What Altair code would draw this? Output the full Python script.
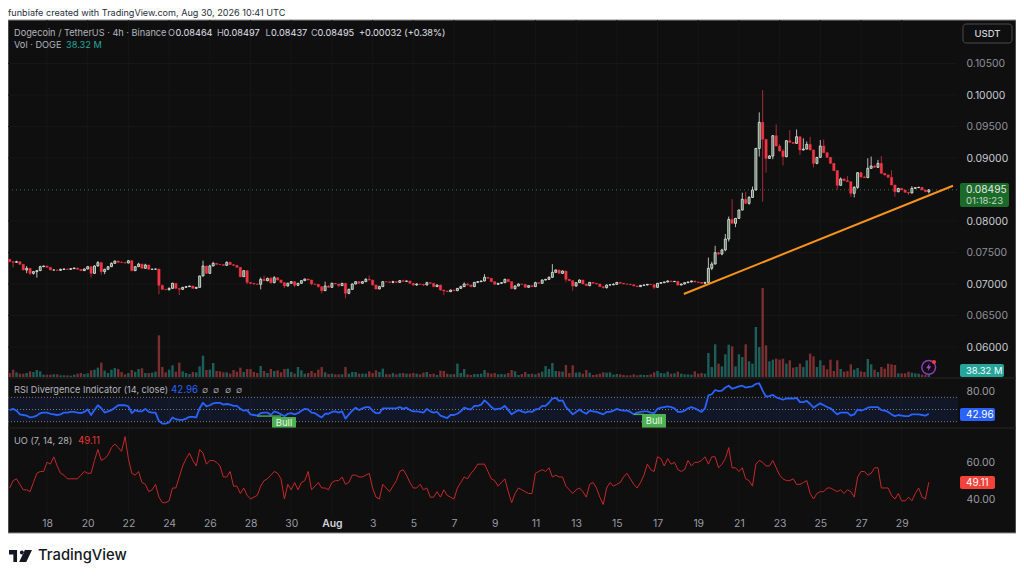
import altair as alt
import pandas as pd
from datetime import datetime, timedelta, timezone

# ---------- values ----------
# closes in units of 0.00001 USDT, one per 4h bar from 16 Jul 04:00 UTC
close_part1 = [7354,7344,7354,7312,7222,7249,7169,7196,7212,7275,
7286,7265,7222,7222,7217,7233,7238,7233,7243,7254,
7233,7212,7238,7275,7169,7286,7339,7196,7233,7275,
7328,7365,7344,7339,7333,7370,7212,7275,7317,7249,
7302,7233,7235,7238,6979,6915,6910,6931,7011,6931,
6915,6947,6958,6968,6931,6947,7127,7286,7169,7286,
7328,7312,7307,7296,7344,7307,7296,7265,7116,7212,
7026,7011,7000,6995,7074,7053,7090,7021,7100,7063,
7021,6968,7011,7037,6979,7011,7053,7079,7063,7000,
6995,6958,6894,6968,6947,7011,7000,6974]
close_part2 = [7011,6852,6915,7000,7037,7011,7037,7074,7063,6984,
6921,6958,7037,7034,7026,7037,7026,7053,7042,7048,
7011,6984,7000,6995,6984,7021,7011,6958,6984,6905,
6889,6878,6905,6894,6931,6958,7000,6984,6958,7026,
7037,7048,7106,7090,7037,6995,7011,7021,7074,7037,
6926,6968,7000,6995,6947,6974,6958,7021,7011,7063,
7074,7106,7185,7222,7169,7206,7074,7053,6968,7021,
7063,7000,6974,7026,7011,7000,6958,6942,6984,6987,
6995,7026,7011,7000,6997,6989,6968,6958,6979,6984,
6995,6989,6947,7011,7021,7032,7048,7037,7042,6984]
close_part3 = [7000,7021,7032,7048,7032,7026,7011,7026,7249,7317,
7497,7476,7540,7714,8026,7963,8042,8174,8344,8280,
8375,8492,9153,9566,9296,8994,9031,9354,9190,9111,
9021,9275,9248,9232,9338,9127,9142,9217,9127,8915,
9010,9190,9084,9010,8915,8799,8566,8666,8640,8624,
8439,8534,8767,8698,8688,8836,8873,8852,8915,8756,
8730,8693,8571,8465,8518,8492,8455,8444,8518,8529,
8534,8492,8464,8495]
first_open = 7390
# wick lengths above the body and below it, same units
upper_wick = [10,10,15,5,5,35,5,10,10,15,5,5,5,5,5,10,5,5,5,5,
5,5,10,10,5,10,25,10,10,5,15,5,5,20,5,5,10,5,20,5,
20,5,5,5,5,10,5,15,10,5,5,5,5,5,5,5,5,85,5,20,
25,5,5,5,15,10,10,5,5,5,5,5,5,5,30,60,10,25,25,5,
5,10,10,10,10,5,5,5,5,5,5,5,5,70,15,10,5,5,5,5,
10,10,5,5,5,20,60,5,5,15,5,5,5,15,5,10,15,5,5,5,
10,5,5,15,10,5,5,5,5,5,5,5,5,15,25,15,5,5,5,5,
50,5,5,5,5,5,10,5,5,15,10,5,5,5,5,15,10,10,5,15,
130,10,5,10,5,5,5,5,10,5,5,5,5,5,5,5,10,5,15,5,
5,5,5,5,5,5,5,5,5,5,5,5,5,5,10,5,5,5,5,5,
5,5,5,5,5,5,170,35,110,15,20,80,45,320,5,10,105,120,20,55,
5,159,513,5,15,10,180,30,30,5,170,5,115,5,170,45,120,5,5,95,
105,10,5,5,10,25,15,75,5,20,5,15,20,160,150,20,55,115,10,10,
110,5,5,5,5,5,35,10,10,5,5,2]
lower_wick = [5,80,5,5,5,50,30,20,95,5,5,5,5,5,5,5,5,5,5,5,
5,5,5,5,65,10,10,50,40,5,5,5,5,5,10,5,10,5,5,5,
5,5,5,5,140,10,5,15,5,15,90,10,5,5,5,5,5,5,5,5,
5,5,5,5,5,5,10,5,10,5,30,15,10,5,80,5,10,20,10,5,
5,30,5,5,30,5,5,5,5,20,5,15,45,5,5,5,5,20,5,80,
15,5,5,5,5,5,5,10,10,5,5,5,5,15,5,10,5,5,5,15,
10,5,15,5,5,10,5,10,65,5,5,5,5,5,5,10,5,5,5,5,
5,5,5,5,5,5,5,5,5,15,5,5,5,5,5,5,5,5,5,5,
5,5,5,5,45,10,75,10,5,5,5,10,5,5,5,15,15,5,5,5,
5,5,5,5,5,5,5,10,5,5,30,5,5,5,5,5,5,15,5,5,
5,5,5,5,5,5,5,30,5,15,20,20,40,5,60,10,5,10,20,5,
5,130,989,225,5,50,5,10,140,10,5,5,5,80,5,5,5,65,15,5,
5,5,5,5,70,5,5,5,55,65,25,10,5,5,5,5,5,5,5,5,
5,80,10,5,5,30,5,5,5,5,5,27]
# volume, millions of DOGE
volume = [60,110,70,50,50,60,85,75,105,85,35,35,35,40,40,25,25,25,20,35,
50,60,45,55,100,110,140,215,95,60,110,135,120,75,40,60,105,80,120,130,
60,60,65,80,625,150,70,110,175,80,215,85,60,45,75,70,160,320,105,110,
210,90,85,70,70,50,105,80,140,75,120,120,75,60,165,90,60,120,90,100,
70,120,125,75,50,150,100,50,60,90,60,110,150,70,45,50,40,40,
40,150,50,75,75,50,50,50,85,60,100,75,125,45,40,60,40,55,60,50,
50,60,50,40,65,75,45,50,30,95,90,50,40,45,200,60,120,40,30,45,
45,50,105,65,50,60,40,45,40,60,105,85,30,45,75,45,50,40,60,80,
165,120,210,90,85,80,180,60,175,65,70,50,105,65,30,40,50,70,65,70,
35,45,40,30,25,25,40,25,35,30,30,40,70,90,60,55,80,50,55,80,
50,40,40,35,85,50,60,50,360,150,490,200,160,340,485,460,160,340,300,490,
235,200,750,450,1335,475,235,260,275,260,275,200,250,140,150,200,150,250,350,310,
150,250,175,115,260,90,250,120,80,90,190,110,135,85,75,270,190,110,75,150,
125,200,190,180,55,55,55,80,65,55,50,35,30,38.32]
rsi = [49,51,48,42,41,40,37,38,40,44,45,45,43,42,41,42,45,45,46,46,
45,44,46,50,41,49,57,52,45,47,49,53,57,57,57,55,44,49,47,47,
51,46,45,45,31,27,27,29,37,34,33,33,35,38,38,37,52,61,55,57,
60,61,61,58,59,58,56,56,51,48,49,42,41,40,44,45,45,41,47,45,
42,39,43,44,42,44,48,51,50,45,44,40,37,43,43,46,47,45,
47,35,42,48,53,49,52,54,54,48,44,44,52,52,52,52,52,54,51,53,
49,47,47,46,45,51,47,45,46,40,38,36,41,41,43,47,53,51,50,56,
56,58,65,60,54,50,51,52,56,49,42,46,49,47,45,47,46,50,51,56,
56,61,68,69,64,65,54,48,42,46,50,46,43,48,47,46,44,42,46,46,
48,51,49,48,48,46,42,45,46,47,47,45,44,51,53,54,55,54,52,46,
46,48,52,54,52,49,46,52,73,75,82,80,81,86,89,84,86,88,89,86,
87,88,92,93,81,71,72,74,70,68,66,68,68,68,69,62,62,64,59,53,
57,60,57,54,52,47,42,45,45,45,40,42,50,48,50,53,54,54,54,49,
48,46,42,39,41,40,39,39,42,42,42,41,40,42.96]
uo = [46,50,51,48,45,45,44,49,54,55,55,60,59,63,58,54,53,51,51,51,
51,53,55,54,54,61,67,61,62,64,68,70,68,66,74,62,54,53,55,49,
48,44,45,48,41,38,38,39,46,46,52,58,62,65,61,58,67,65,59,61,
61,60,58,52,52,55,47,47,43,46,42,40,41,42,47,50,51,53,55,54,
51,40,48,45,49,45,49,50,55,45,47,49,46,46,45,49,50,50,
52,48,49,53,53,52,52,53,54,46,41,40,48,46,44,47,50,55,56,53,
49,46,46,48,45,46,41,41,44,41,45,42,41,40,46,49,52,51,54,56,
59,59,59,55,51,50,47,49,51,44,38,43,46,45,44,43,43,54,55,56,
55,57,52,53,52,52,47,45,43,45,46,44,41,48,49,46,41,37,46,49,
47,48,49,52,54,51,48,46,49,53,59,56,55,63,62,58,62,59,60,56,
55,56,61,58,60,60,61,63,59,63,63,57,59,62,68,57,57,55,57,51,
50,47,59,61,60,58,58,61,57,53,51,50,50,51,48,48,49,50,43,40,
43,44,44,46,46,45,44,45,43,45,44,41,52,55,55,53,54,57,57,46,
46,46,42,40,43,39,39,41,39,43,46,41,40,49.11]

# the 0.08500 label is hidden behind the last-price tag in the reference
price_ticks = [0.105,0.10,0.095,0.09,0.08,0.075,0.07,0.065,0.06]
rsi_ticks = [80]
uo_ticks = [60,40]
last_price = 0.08495
trend_time = ["2026-08-18T07:00:00Z","2026-08-31T12:30:00Z"]
trend_price = [0.06841,0.0856]

# ---------- geometry of the panes (chart coordinates) ----------
W, H = 1008, 563
X_RIGHT = 949
FONT = "Inter"
T0 = datetime(2026,7,16,4,tzinfo=timezone.utc)
DOM0 = datetime(2026,7,16,2,tzinfo=timezone.utc)
DOM1 = DOM0 + timedelta(days=949/20.35)
ms = lambda d: int(d.timestamp()*1000)

closes = close_part1+close_part2+close_part3
opens = [first_open]+closes[:-1]
rows = []
for i,(o,c,u,l,v,r,q) in enumerate(zip(opens,closes,upper_wick,lower_wick,volume,rsi,uo)):
    rows.append(dict(t=(T0+timedelta(hours=4*i)).strftime("%Y-%m-%dT%H:%M:%SZ"),
        o=o/1e5,c=c/1e5,h=(max(o,c)+u)/1e5,l=(min(o,c)-l)/1e5,
        top=max(o,c)/1e5,bot=min(o,c)/1e5,v=v,rsi=r,uo=q,up=c>=o))
df = pd.DataFrame(rows)
up = df[df.up]
down = df[~df.up]
one = pd.DataFrame({"k":[0]})

x_scale = alt.Scale(type="utc",domain=[ms(DOM0),ms(DOM1)],range=[0,X_RIGHT],nice=False,padding=0)
X = lambda f="t:T",axis=None: alt.X(f,scale=x_scale,axis=axis,title=None)

price_scale = alt.Scale(domain=[0.07-94/6300,0.07+264/6300],range=[370,12],nice=False,zero=False,padding=0)
vol_scale = alt.Scale(domain=[0,1335],range=[369,280],nice=False,zero=True,padding=0)
rsi_scale = alt.Scale(domain=[50-(428-409.5)/0.61,50+(409.5-378)/0.61],range=[420,370],nice=False,zero=False,padding=0)
uo_scale = alt.Scale(domain=[40-16/1.835,60+34.3/1.835],range=[507,420],nice=False,zero=False,padding=0)
Yp = lambda f,axis=None: alt.Y(f,scale=price_scale,axis=axis,title=None)
Yr = lambda f,axis=None: alt.Y(f,scale=rsi_scale,axis=axis,title=None)
Yu = lambda f,axis=None: alt.Y(f,scale=uo_scale,axis=axis,title=None)
Yv = lambda f: alt.Y(f,scale=vol_scale,axis=None,title=None)

def right_axis(values,fmt,color):
    return alt.Axis(orient="right",values=values,format=fmt,offset=-(W-X_RIGHT),domain=False,ticks=False,grid=False,
                    labelPadding=9,labelFont=FONT,labelFontSize=10.4,labelColor=color,labelOverlap=False,zindex=1,labelFlush=False)

def rect(x0,x1,y0,y1,fill,radius=0,**kw):
    return alt.Chart(one).mark_rect(color=fill,cornerRadius=radius,**kw).encode(
        x=alt.value(x0),x2=alt.value(x1),y=alt.value(y0),y2=alt.value(y1))

def txt(s,x,y,color,size=10,weight=400,align="left",font=FONT):
    return alt.Chart(one).mark_text(text=s,align=align,baseline="middle",color=color,fontSize=size,
                                    fontWeight=weight,font=font).encode(x=alt.value(x),y=alt.value(y))

def hline(y,color):
    return alt.Chart(one).mark_rule(color=color,strokeWidth=1).encode(
        x=alt.value(0),x2=alt.value(W),y=alt.value(y))

GRAY = "#b2b5be"
layers = []
# panel background
layers.append(alt.Chart(one).mark_rect(fill="#0f0f0f",stroke="#8c8c8c",strokeWidth=1).encode(
    x=alt.value(0),x2=alt.value(W),y=alt.value(12),y2=alt.value(525)))

# vertical and horizontal faint grid
tick_days = [datetime(2026,7,d,tzinfo=timezone.utc) for d in range(18,31,2)]+[datetime(2026,8,d,tzinfo=timezone.utc) for d in range(1,30,2)]
grid_df = pd.DataFrame({"t":[d.strftime("%Y-%m-%dT%H:%M:%SZ") for d in tick_days]})
layers.append(alt.Chart(grid_df).mark_rule(color="#161616",strokeWidth=1).encode(
    x=X("t:T",alt.Axis(orient="bottom",values=[ms(d) for d in tick_days],offset=-(H-507),domain=False,ticks=False,grid=False,
        labelExpr="utcdate(datum.value)==1 ? 'Aug' : utcdate(datum.value)",labelPadding=3,labelFont=FONT,labelFontSize=10.4,
        labelColor={"condition":{"test":"utcdate(datum.value)==1","value":"#d1d4dc"},"value":"#9a9ca3"},
        labelFontWeight={"condition":{"test":"utcdate(datum.value)==1","value":600},"value":400},
        labelOverlap=False,labelFlush=False,zindex=1)),
    y=alt.value(12),y2=alt.value(507)))
ptick_df = pd.DataFrame({"p":price_ticks})
layers.append(alt.Chart(ptick_df).mark_rule(color="#161616",strokeWidth=1).encode(
    y=Yp("p:Q",right_axis(price_ticks,".5f",{"condition":{"test":"round(datum.value*1000)%10==0","value":"#c8cad0"},"value":"#8f9198"})),
    x=alt.value(0),x2=alt.value(X_RIGHT)))

# volume
layers.append(alt.Chart(up).mark_bar(size=2.4,color="#1c5f5a").encode(x=X(),y=Yv("v:Q")))
layers.append(alt.Chart(down).mark_bar(size=2.4,color="#7a2f30").encode(x=X(),y=Yv("v:Q")))

# last price line
layers.append(alt.Chart(pd.DataFrame({"p":[last_price]})).mark_rule(color="#3f6b48",strokeWidth=1,strokeDash=[1,3]).encode(
    y=Yp("p:Q"),x=alt.value(0),x2=alt.value(X_RIGHT)))

# candles
layers.append(alt.Chart(up).mark_rule(color="#c9c9c9",strokeWidth=0.9).encode(x=X(),y=Yp("h:Q"),y2="l:Q"))
layers.append(alt.Chart(down).mark_rule(color="#b4303c",strokeWidth=0.9).encode(x=X(),y=Yp("h:Q"),y2="l:Q"))
layers.append(alt.Chart(up).mark_bar(size=2.0,fill="#4f7d58",stroke="#eeeeee",strokeWidth=0.8).encode(x=X(),y=Yp("top:Q"),y2="bot:Q"))
layers.append(alt.Chart(down).mark_bar(size=2.4,fill="#f23645",stroke="#f23645",strokeWidth=0.4).encode(x=X(),y=Yp("top:Q"),y2="bot:Q"))

# trend line
trend_df = pd.DataFrame({"t":trend_time,"p":trend_price})
layers.append(alt.Chart(trend_df).mark_line(color="#f7931a",strokeWidth=2).encode(x=X(),y=Yp("p:Q")))

# RSI pane
layers.append(hline(370,"#262626"))
layers.append(alt.Chart(pd.DataFrame({"a":[70],"b":[30]})).mark_rect(fill="#2962ff",opacity=0.1).encode(
    y=Yr("a:Q"),y2="b:Q",x=alt.value(0),x2=alt.value(X_RIGHT+1)))
layers.append(alt.Chart(pd.DataFrame({"r":[70,50,30]})).mark_rule(color="#787b86",strokeWidth=1,strokeDash=[1,2]).encode(
    y=Yr("r:Q"),x=alt.value(0),x2=alt.value(X_RIGHT+1)))
layers.append(alt.Chart(pd.DataFrame({"r":rsi_ticks})).mark_rule(opacity=0).encode(
    y=Yr("r:Q",right_axis(rsi_ticks,".2f","#9a9ca3")),x=alt.value(0),x2=alt.value(1)))
layers.append(alt.Chart(df).mark_line(color="#2962ff",strokeWidth=1.8,strokeJoin="round").encode(x=X(),y=Yr("rsi:Q")))
div1 = df.iloc[[73,80]].assign(r=[39.2,39.2])
div2 = df.iloc[[184,187]].assign(r=[42,42])
layers.append(alt.Chart(div1).mark_line(color="#4caf50",strokeWidth=1.4).encode(x=X(),y=Yr("r:Q")))
layers.append(alt.Chart(div2).mark_line(color="#4caf50",strokeWidth=1.4).encode(x=X(),y=Yr("r:Q")))
layers.append(rect(264,288,409,420,"#4caf50",1))
layers.append(txt("Bull",276,414.5,"#e8f5e9",9.5,400,"center"))
layers.append(rect(634,658,406,420,"#4caf50",1))
layers.append(txt("Bull",646,413,"#e8f5e9",9.5,400,"center"))

# UO pane
layers.append(hline(420,"#262626"))
layers.append(alt.Chart(pd.DataFrame({"u":uo_ticks})).mark_rule(opacity=0).encode(
    y=Yu("u:Q",right_axis(uo_ticks,".2f","#9a9ca3")),x=alt.value(0),x2=alt.value(1)))
layers.append(alt.Chart(df).mark_line(color="#c62828",strokeWidth=1,strokeJoin="round").encode(x=X(),y=Yu("uo:Q")))

# price tags on the right
layers.append(rect(952,1001,175,199,"#1b6a29",2))
layers.append(txt("0.08495",958,181.5,"#e6e6e6",10.2))
layers.append(txt("01:18:23",958,193,"#c3d6c5",9.6))
layers.append(rect(952,996,356,369,"#26a69a",2))
layers.append(txt("38.32 M",958,362.8,"#ffffff",9.4))
layers.append(rect(952,987,400,413,"#2962ff",2))
layers.append(txt("42.96",958,406.8,"#ffffff",10))
layers.append(rect(952,987,468,481,"#f2423a",2))
layers.append(txt("49.11",958,474.8,"#ffffff",10))

# USDT button
layers.append(alt.Chart(one).mark_rect(fill="#0f0f0f",stroke="#4a4a4a",strokeWidth=1,cornerRadius=3).encode(
    x=alt.value(955),x2=alt.value(1004),y=alt.value(16),y2=alt.value(35)))
layers.append(txt("USDT",979.5,25.5,"#d1d4dc",9.5,500,"center"))

# legends
layers.append(txt("funbiafe created with TradingView.com, Aug 30, 2026 10:41 UTC",0,5.2,"#2a2e39",9.1))
layers.append(txt("Dogecoin / TetherUS · 4h · Binance",6,24.5,GRAY,9.2))
for lab,lx,val,vx in [("O",160,"0.08464",167.5),("H",209,"0.08497",215.5),("L",257.5,"0.08437",263),("C",303,"0.08495",309.5)]:
    layers.append(txt(lab,lx,24.5,GRAY,9.2))
    layers.append(txt(val,vx,24.5,"#e0e3eb",9.2))
layers.append(txt("+0.00032 (+0.38%)",351,24.5,"#e0e3eb",9.2))
layers.append(txt("Vol · DOGE",6,37,GRAY,9.2))
layers.append(txt("38.32 M",58,37,"#26a69a",9.2))
layers.append(txt("RSI Divergence Indicator (14, close)",6,382,GRAY,9.2))
layers.append(txt("42.96",163,382,"#2962ff",9.7))
for gx in [197,208,220,231]:
    layers.append(txt("∅",gx,382,"#9a9ca3",9,400,"center"))
layers.append(txt("UO (7, 14, 28)",6,433,GRAY,9.2))
layers.append(txt("49.11",70,433,"#e53935",9.7))

# bolt badge
layers.append(alt.Chart(one).mark_point(shape="circle",size=190,filled=False,stroke="#8e3bb5",strokeWidth=1.5,opacity=1).encode(
    x=alt.value(920.7),y=alt.value(359.3)))
layers.append(alt.Chart(one).mark_point(shape="M0.25,-1L-0.6,0.2H-0.05L-0.25,1L0.6,-0.25H0.05Z",size=70,filled=True,color="#a445d6",opacity=1).encode(
    x=alt.value(920.7),y=alt.value(359.3)))
layers.append(alt.Chart(one).mark_point(shape="circle",size=18,filled=True,color="#f23645",opacity=1).encode(
    x=alt.value(926),y=alt.value(354)))

# footer logo
logo = "M-1,-0.52H-0.3V0.52H-0.62V-0.12H-1Z M-0.05,-0.3a.17,.17 0 1,0 .34,0a.17,.17 0 1,0 -.34,0Z M0.38,-0.52H1L0.5,0.52H-0.12Z"
layers.append(alt.Chart(one).mark_point(shape=logo,size=529,filled=True,color="#131722",opacity=1).encode(
    x=alt.value(12.5),y=alt.value(548)))
layers.append(txt("TradingView",30,548,"#131722",14.8,500))

chart = alt.layer(*layers).resolve_scale(y="independent").resolve_axis(x="independent",y="independent").properties(
    width=W,height=H,padding=0,background="white",autosize=alt.AutoSizeParams(type="none")
).configure_view(stroke=None)
chart.save("out.html",embed_options={"renderer":"svg","actions":False})
